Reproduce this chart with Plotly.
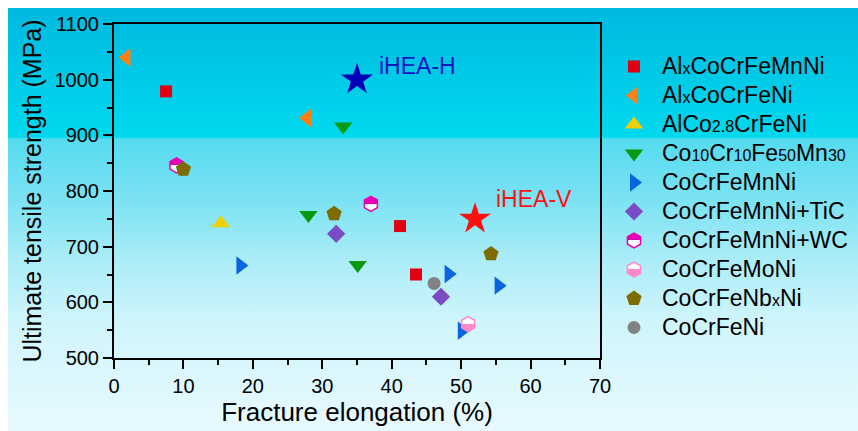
import base64
import plotly.graph_objects as go

# ---- data: fracture elongation (%) vs ultimate tensile strength (MPa) ----
alx_mnni_x = [7.5, 41.2, 43.5]
alx_mnni_y = [979, 737, 650]

alx_ni_x = [1.8, 27.8]
alx_ni_y = [1040, 931]

alco_x = [15.4]
alco_y = [742]

comn_x = [33.0, 28.0, 35.1]
comn_y = [916, 757, 667]

cantor_x = [18.2, 48.2, 55.4, 50.1]
cantor_y = [666, 651, 630, 549]

tic_x = [32.0, 47.1]
tic_y = [723, 610]

wc_x = [9.0, 37.0]
wc_y = [846, 777]

mo_x = [51.0]
mo_y = [561]

nb_x = [10.0, 31.7, 54.3]
nb_y = [839, 759, 687]

coni_x = [46.1]
coni_y = [634]

ihea_h_x = [35.0]
ihea_h_y = [1000]
ihea_v_x = [52.0]
ihea_v_y = [750]

x_ticks = [0, 10, 20, 30, 40, 50, 60, 70]
y_ticks = [500, 600, 700, 800, 900, 1000, 1100]

FONT = "Liberation Sans, Arial, sans-serif"


def big(t):
    return f"<span style='font-size:23px'>{t}</span>"


def small(t):
    return f"<span style='font-size:16px'>{t}</span>"


series = [
    dict(name=big("Al") + small("x") + big("CoCrFeMnNi"), x=alx_mnni_x, y=alx_mnni_y,
         symbol="square", size=12, color="#e00012"),
    dict(name=big("Al") + small("x") + big("CoCrFeNi"), x=alx_ni_x, y=alx_ni_y,
         symbol="triangle-left", size=16, color="#ff8012"),
    dict(name=big("AlCo") + small("2.8") + big("CrFeNi"), x=alco_x, y=alco_y,
         symbol="triangle-up", size=16, color="#f2d000"),
    dict(name=big("Co") + small("10") + big("Cr") + small("10") + big("Fe") + small("50")
         + big("Mn") + small("30"), x=comn_x, y=comn_y,
         symbol="triangle-down", size=16, color="#0a9a12"),
    dict(name=big("CoCrFeMnNi"), x=cantor_x, y=cantor_y,
         symbol="triangle-right", size=16, color="#0a64e0"),
    dict(name=big("CoCrFeMnNi+TiC"), x=tic_x, y=tic_y,
         symbol="diamond", size=14, color="#7a4bc4"),
    # half-filled hexagons: upper half coloured / lower half coloured
    dict(name=big("CoCrFeMnNi+WC"), x=wc_x, y=wc_y,
         symbol="hexagon", size=15, color="#e400b4", fill_top="#e400b4",
         fill_bottom="white"),
    dict(name=big("CoCrFeMoNi"), x=mo_x, y=mo_y,
         symbol="hexagon", size=15, color="#ff88c8", fill_top="white",
         fill_bottom="#ff88c8"),
    dict(name=big("CoCrFeNb") + small("x") + big("Ni"), x=nb_x, y=nb_y,
         symbol="pentagon", size=16, color="#7d6c00"),
    dict(name=big("CoCrFeNi"), x=coni_x, y=coni_y,
         symbol="circle", size=13, color="#828282"),
]

fig = go.Figure()

for s in series:
    marker = dict(symbol=s["symbol"], size=s["size"], color=s["color"],
                  line=dict(width=0))
    if "fill_top" in s:
        marker["color"] = s["fill_top"]
        marker["line"] = dict(width=1.5, color=s["color"])
        marker["gradient"] = dict(type="vertical", color=s["fill_bottom"])
    fig.add_trace(go.Scatter(x=s["x"], y=s["y"], mode="markers", name=s["name"],
                             marker=marker))

# highlighted alloys
fig.add_trace(go.Scatter(x=ihea_h_x, y=ihea_h_y, mode="markers", showlegend=False,
                         marker=dict(symbol="star", size=24, color="#0000b8",
                                     line=dict(width=0))))
fig.add_trace(go.Scatter(x=ihea_v_x, y=ihea_v_y, mode="markers", showlegend=False,
                         marker=dict(symbol="star", size=24, color="#ff1010",
                                     line=dict(width=0))))
fig.add_annotation(x=ihea_h_x[0], y=ihea_h_y[0], text="iHEA-H", showarrow=False,
                   xanchor="left", yanchor="middle", xshift=20, yshift=14,
                   font=dict(family=FONT, size=23, color="#1414c0"))
fig.add_annotation(x=ihea_v_x[0], y=ihea_v_y[0], text="iHEA-V", showarrow=False,
                   xanchor="left", yanchor="middle", xshift=19, yshift=20,
                   font=dict(family=FONT, size=23, color="#ff1010"))

# cyan-to-pale background panel
W, H = 858, 431
ML, MR, MT, MB = 114, 258, 24, 73
pw, ph = W - ML - MR, H - MT - MB
bg_left, bg_top = 8, 8
svg = (
    "<svg xmlns='http://www.w3.org/2000/svg' width='850' height='423' "
    "preserveAspectRatio='none' viewBox='0 0 850 423'>"
    "<defs><linearGradient id='g' x1='0' y1='0' x2='0' y2='1'>"
    "<stop offset='0' stop-color='#00b9df'/>"
    "<stop offset='0.305' stop-color='#00d9ee'/>"
    "<stop offset='0.31' stop-color='#55dbef'/>"
    "<stop offset='0.45' stop-color='#7ae2f3'/>"
    "<stop offset='0.6' stop-color='#acedf8'/>"
    "<stop offset='0.74' stop-color='#cff5fb'/>"
    "<stop offset='1' stop-color='#e8faff'/>"
    "</linearGradient></defs>"
    "<rect width='850' height='423' fill='url(#g)'/></svg>"
)
src = "data:image/svg+xml;base64," + base64.b64encode(svg.encode()).decode()
fig.add_layout_image(dict(
    source=src, xref="paper", yref="paper",
    x=(bg_left - ML) / pw, y=(H - MB - bg_top) / ph,
    sizex=(W - bg_left) / pw, sizey=(H - bg_top) / ph,
    xanchor="left", yanchor="top", sizing="stretch", layer="below",
))

axis_common = dict(
    showline=True, linewidth=2, linecolor="black", mirror=True,
    ticks="outside", ticklen=9, tickwidth=2, tickcolor="black",
    showgrid=False, zeroline=False,
    tickfont=dict(family=FONT, size=20, color="black"),
    minor=dict(ticks="outside", ticklen=5, tickwidth=2, tickcolor="black",
               showgrid=False),
)

fig.update_xaxes(range=[0, 70], tickvals=x_ticks, minor_dtick=5,
                 title=dict(text="Fracture elongation (%)", standoff=4,
                            font=dict(family=FONT, size=26, color="black")),
                 **axis_common)
fig.update_yaxes(range=[500, 1100], tickvals=y_ticks, minor_dtick=50,
                 title=dict(text="Ultimate tensile strength (MPa)", standoff=6,
                            font=dict(family=FONT, size=25, color="black")),
                 **axis_common)

fig.update_layout(
    width=W, height=H, autosize=False,
    margin=dict(l=ML, r=MR, t=MT, b=MB, pad=0, autoexpand=False),
    paper_bgcolor="white", plot_bgcolor="rgba(0,0,0,0)",
    font=dict(family=FONT, color="black"),
    legend=dict(x=(606 - ML) / pw, xanchor="left", y=(H - MB - 47) / ph, yanchor="top",
                bgcolor="rgba(0,0,0,0)", borderwidth=0, itemwidth=46,
                font=dict(family=FONT, size=20, color="black")),
)

# split the hexagon gradient fills into two solid halves
post = """
var gd = document.getElementById('{plot_id}');
gd.querySelectorAll('linearGradient').forEach(function(g){
  var st = g.querySelectorAll('stop');
  if (st.length !== 2) return;
  var a = st[0].cloneNode(true), b = st[1].cloneNode(true);
  a.setAttribute('offset', '50%'); b.setAttribute('offset', '50%');
  g.insertBefore(a, st[1]); g.insertBefore(b, st[1]);
});
"""

fig.write_html("out.html", post_script=post)
